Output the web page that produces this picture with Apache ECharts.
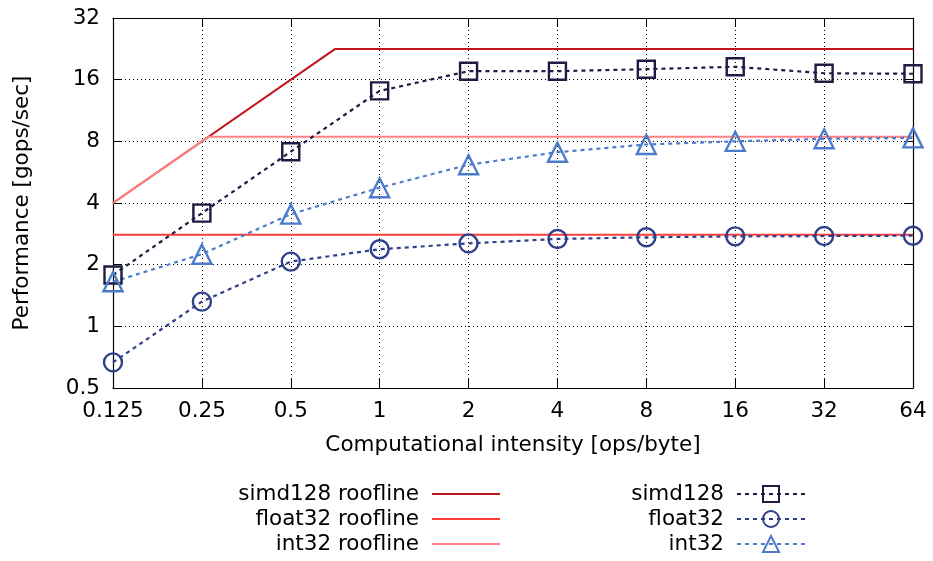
<!DOCTYPE html>
<html>
<head>
<meta charset="utf-8">
<script src="https://cdn.jsdelivr.net/npm/echarts@6/dist/echarts.min.js"></script>
<style>
  html, body { margin: 0; padding: 0; background: #fff; }
  #chart { width: 933px; height: 561px; }
</style>
</head>
<body>
<div id="chart"></div>
<script>
// Computational intensity sample points (ops/byte)
const intensity = [0.125, 0.25, 0.5, 1, 2, 4, 8, 16, 32, 64];

// Measured performance (gops/sec)
const simd128 = [1.78, 3.57, 7.12, 14.1, 17.6, 17.6, 18.0, 18.5, 17.2, 17.1];
const float32 = [0.667, 1.32, 2.07, 2.38, 2.54, 2.67, 2.72, 2.75, 2.76, 2.77];
const int32   = [1.65, 2.25, 3.53, 4.75, 6.15, 7.08, 7.72, 8.0, 8.23, 8.32];

// Roofline vertices [intensity, performance]
const simd128Roof = [[0.125, 4], [0.707, 22.6], [64, 22.6]];
const float32Roof = [[0.125, 2.8], [64, 2.8]];
const int32Roof   = [[0.125, 4], [0.264, 8.43], [64, 8.43]];

// Axis ranges
const xRange = [0.125, 64];
const yRange = [0.5, 32];

const FONT = 'DejaVu Sans';
const FS = 21.5;

const pair = (xs, ys) => xs.map((x, i) => [x, ys[i]]);
const fmt = v => String(+(+v).toPrecision(6));

const chart = echarts.init(document.getElementById('chart'), null, { renderer: 'canvas' });

const gridDots = { show: true, lineStyle: { color: '#000', width: 1, type: [1, 3] } };
const frame = { show: true, onZero: false, lineStyle: { color: '#000', width: 1.2 } };
const inTick = { show: true, inside: true, length: 9, lineStyle: { color: '#000', width: 1 } };

function roof(name, data, color) {
  return {
    name, type: 'line', data, symbol: 'none', z: 2,
    lineStyle: { color, width: 2 }, itemStyle: { color },
    emphasis: { disabled: true }, silent: true
  };
}
function meas(name, ys, color, symbol, size) {
  return {
    name, type: 'line', data: pair(intensity, ys), symbol, symbolSize: size,
    showAllSymbol: true, z: 3,
    lineStyle: { color, width: 2.2, type: [4, 4] },
    itemStyle: { color: 'rgba(0,0,0,0)', borderColor: color, borderWidth: 2.4 },
    emphasis: { disabled: true }, silent: true
  };
}

const legendText = {
  fontFamily: FONT, fontSize: FS, color: '#000', padding: [0, 8, 0, 0]
};
const flatIcon = 'path://M0,0H68V2H0Z';

chart.setOption({
  animation: false,
  backgroundColor: '#fff',
  textStyle: { fontFamily: FONT },
  grid: { left: 113, right: 20, top: 18, bottom: 173 },
  xAxis: [
    {
      type: 'log', logBase: 2, min: xRange[0], max: xRange[1], splitNumber: 9,
      position: 'bottom',
      name: 'Computational intensity [ops/byte]', nameLocation: 'middle', nameGap: 46,
      nameTextStyle: { fontFamily: FONT, fontSize: FS, color: '#000' },
      axisLine: frame, axisTick: inTick, splitLine: gridDots,
      axisLabel: { fontFamily: FONT, fontSize: FS, color: '#000', margin: 12, formatter: fmt }
    },
    {
      type: 'log', logBase: 2, min: xRange[0], max: xRange[1], splitNumber: 9,
      position: 'top', axisLine: frame, axisTick: inTick,
      splitLine: { show: false }, axisLabel: { show: false }
    }
  ],
  yAxis: [
    {
      type: 'log', logBase: 2, min: yRange[0], max: yRange[1], splitNumber: 6,
      position: 'left',
      name: 'Performance [gops/sec]', nameLocation: 'middle', nameGap: 80,
      nameTextStyle: { fontFamily: FONT, fontSize: FS, color: '#000' },
      axisLine: frame, axisTick: inTick, splitLine: gridDots,
      axisLabel: { fontFamily: FONT, fontSize: FS, color: '#000', margin: 13, formatter: fmt }
    },
    {
      type: 'log', logBase: 2, min: yRange[0], max: yRange[1], splitNumber: 6,
      position: 'right', axisLine: frame, axisTick: inTick,
      splitLine: { show: false }, axisLabel: { show: false }
    }
  ],
  legend: [
    {
      orient: 'vertical', align: 'right', right: 428, top: 478,
      itemWidth: 68, itemHeight: 20, itemGap: 3,
      data: [
        { name: 'simd128 roofline', icon: flatIcon },
        { name: 'float32 roofline', icon: flatIcon },
        { name: 'int32 roofline', icon: flatIcon }
      ],
      textStyle: legendText, selectedMode: false
    },
    {
      orient: 'vertical', align: 'right', right: 122, top: 478,
      itemWidth: 68, itemHeight: 20, itemGap: 3,
      data: ['simd128', 'float32', 'int32'],
      textStyle: legendText, selectedMode: false
    }
  ],
  series: [
    roof('simd128 roofline', simd128Roof, '#c0141a'),
    roof('float32 roofline', float32Roof, '#ff3c3c'),
    roof('int32 roofline', int32Roof, '#ff8282'),
    meas('simd128', simd128, '#1c1c44', 'rect', 17),
    meas('float32', float32, '#2f3f8c', 'circle', 18),
    meas('int32', int32, '#4d7bcc', 'triangle', 19)
  ]
});
</script>
</body>
</html>
